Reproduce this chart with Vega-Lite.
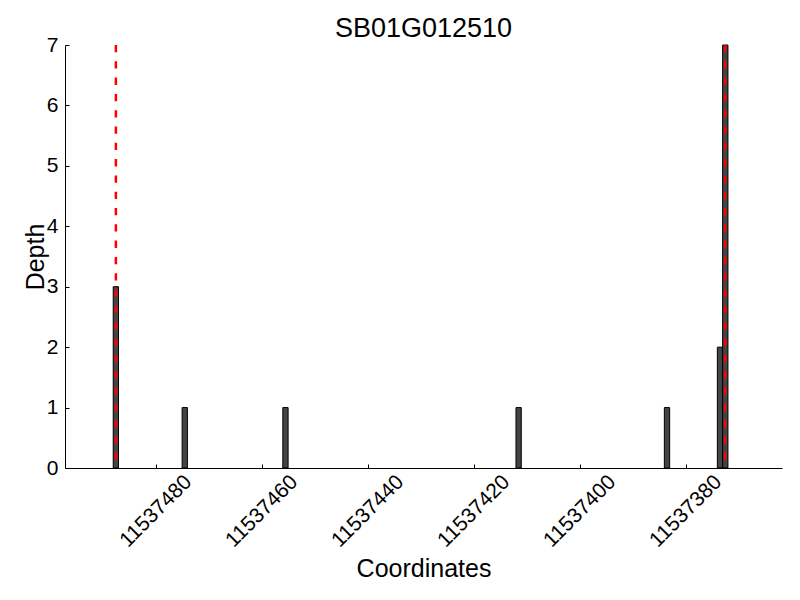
{
  "$schema": "https://vega.github.io/schema/vega-lite/v6.json",
  "autosize": {"type": "none"},
  "width": 717,
  "height": 423,
  "padding": {"left": 65, "top": 45, "right": 18, "bottom": 132},
  "background": "white",
  "config": {
    "view": {"stroke": null},
    "font": "Liberation Sans",
    "axis": {"grid": false, "domainColor": "black", "tickColor": "black", "labelColor": "black", "titleColor": "black", "labelFont": "Liberation Sans", "titleFont": "Liberation Sans", "titleFontWeight": "normal"}
  },
  "title": {"text": "SB01G012510", "fontSize": 27, "fontWeight": "normal", "font": "Liberation Sans", "color": "black", "baseline": "alphabetic", "offset": 8, "frame": "group", "dy": 38},
  "datasets": {
    "bars": [
      {"start": 11537487, "end": 11537488, "depth": 3},
      {"start": 11537474, "end": 11537475, "depth": 1},
      {"start": 11537455, "end": 11537456, "depth": 1},
      {"start": 11537411, "end": 11537412, "depth": 1},
      {"start": 11537383, "end": 11537384, "depth": 1},
      {"start": 11537373, "end": 11537374, "depth": 2},
      {"start": 11537372, "end": 11537373, "depth": 7}
    ],
    "bounds": [
      {"pos": 11537487.5},
      {"pos": 11537372.5}
    ]
  },
  "layer": [
    {
      "data": {"name": "bars"},
      "mark": {"type": "rect", "fill": "#444444", "stroke": "black", "strokeWidth": 1},
      "encoding": {
        "x": {
          "field": "start", "type": "quantitative",
          "scale": {"domain": [11537361.8, 11537497.1], "reverse": true, "nice": false, "zero": false},
          "axis": {
            "title": "Coordinates", "titleFontSize": 25, "titleBaseline": "alphabetic", "titleY": 108,
            "values": [11537380, 11537400, 11537420, 11537440, 11537460, 11537480],
            "format": "d", "labelFontSize": 21, "labelAngle": -45, "labelAlign": "center", "labelBaseline": "middle",
            "labelPadding": 47, "tickSize": -4, "domainWidth": 1, "labelOverlap": false, "labelFlush": false
          }
        },
        "x2": {"field": "end"},
        "y": {
          "field": "depth", "type": "quantitative",
          "scale": {"domain": [0, 7], "nice": false},
          "axis": {
            "title": "Depth", "titleFontSize": 25, "titleBaseline": "alphabetic", "titleAngle": -90, "titleX": -22,
            "values": [0, 1, 2, 3, 4, 5, 6, 7], "labelFontSize": 21, "labelPadding": 11, "tickSize": -4, "domainWidth": 1, "labelFlush": false
          }
        },
        "y2": {"datum": 0}
      }
    },
    {
      "data": {"name": "bounds"},
      "mark": {"type": "rule", "color": "red", "strokeWidth": 2.5, "strokeDash": [7.3, 9]},
      "encoding": {
        "x": {"field": "pos", "type": "quantitative"}
      }
    }
  ]
}
